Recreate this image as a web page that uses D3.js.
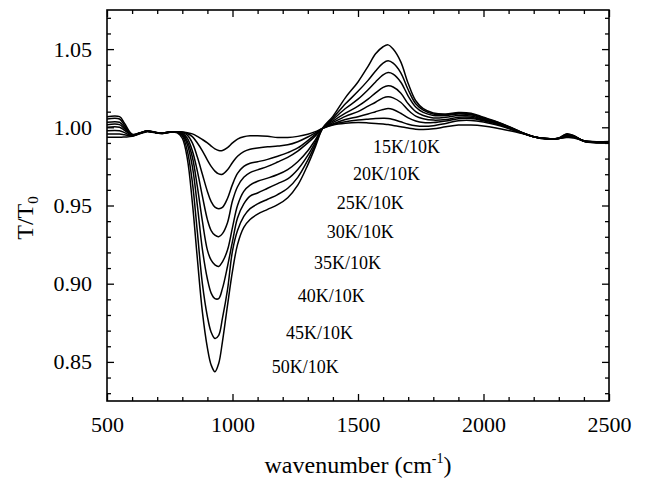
<!DOCTYPE html>
<html>
<head>
<meta charset="utf-8">
<script src="https://cdn.jsdelivr.net/npm/d3@7"></script>
<style>
  body { margin: 0; background: #fff; }
  svg { display: block; }
  text { font-family: "Liberation Serif", "Times New Roman", "DejaVu Serif", serif; fill: #000; }
</style>
</head>
<body>
<svg id="chart" width="647" height="479"></svg>
<script>
// Wavenumber grid (cm^-1) shared by every ratio spectrum
const wavenumbers = [500, 550, 570, 600, 630, 660, 690, 720, 750, 780,
  800, 820, 840, 860, 880, 900, 915, 930, 945, 960, 980, 1000,
  1020, 1045, 1070, 1100, 1140, 1180, 1220, 1260, 1300, 1330, 1360,
  1400, 1450, 1500, 1540, 1570, 1600, 1620, 1640, 1670, 1700,
  1730, 1760, 1800, 1850, 1900, 1950, 2000, 2050, 2100, 2150,
  2200, 2250, 2300, 2330, 2360, 2400, 2450, 2500];

// Transmission ratios T/T0 for each temperature against the 10 K reference
const ratio15K = [0.9936, 0.9936, 0.9938, 0.9942, 0.9958, 0.9972, 0.9966, 0.9960, 0.9968, 0.9972,
  0.9970, 0.9965, 0.9958, 0.9942, 0.9922, 0.9900, 0.9880, 0.9862, 0.9852, 0.9852, 0.9870, 0.9900,
  0.9925, 0.9940, 0.9946, 0.9946, 0.9942, 0.9935, 0.9935, 0.9942, 0.9955, 0.9972, 0.9994,
  1.0015, 1.0026, 1.0030, 1.0028, 1.0025, 1.0021, 1.0018, 1.0012, 1.0004, 0.9995,
  0.9988, 0.9986, 0.9990, 1.0003, 1.0014, 1.0014, 1.0008, 0.9996, 0.9980, 0.9962,
  0.9940, 0.9928, 0.9928, 0.9934, 0.9932, 0.9914, 0.9908, 0.9910];

const ratio20K = [0.9957, 0.9957, 0.9952, 0.9944, 0.9960, 0.9974, 0.9967, 0.9961, 0.9969, 0.9972,
  0.9970, 0.9960, 0.9940, 0.9900, 0.9850, 0.9790, 0.9750, 0.9720, 0.9702, 0.9700, 0.9728, 0.9775,
  0.9815, 0.9845, 0.9860, 0.9868, 0.9876, 0.9880, 0.9888, 0.9908, 0.9938, 0.9965, 0.9994,
  1.0018, 1.0036, 1.0046, 1.0052, 1.0056, 1.0058, 1.0057, 1.0050, 1.0035, 1.0020,
  1.0010, 1.0006, 1.0010, 1.0025, 1.0042, 1.0044, 1.0034, 1.0016, 0.9992, 0.9964,
  0.9940, 0.9928, 0.9928, 0.9938, 0.9935, 0.9914, 0.9906, 0.9908];

const ratio25K = [0.9978, 0.9978, 0.9966, 0.9946, 0.9961, 0.9975, 0.9968, 0.9961, 0.9969, 0.9971,
  0.9966, 0.9950, 0.9900, 0.9810, 0.9700, 0.9590, 0.9525, 0.9490, 0.9480, 0.9488, 0.9545, 0.9635,
  0.9705, 0.9750, 0.9770, 0.9780, 0.9795, 0.9815, 0.9838, 0.9868, 0.9915, 0.9955, 0.9995,
  1.0022, 1.0050, 1.0068, 1.0085, 1.0100, 1.0114, 1.0120, 1.0114, 1.0090, 1.0060,
  1.0040, 1.0030, 1.0030, 1.0040, 1.0055, 1.0056, 1.0042, 1.0022, 0.9996, 0.9966,
  0.9940, 0.9928, 0.9928, 0.9942, 0.9938, 0.9914, 0.9906, 0.9906];

const ratio30K = [1.0000, 1.0000, 0.9980, 0.9948, 0.9962, 0.9976, 0.9968, 0.9962, 0.9970, 0.9971,
  0.9963, 0.9930, 0.9850, 0.9720, 0.9560, 0.9410, 0.9340, 0.9310, 0.9300, 0.9320, 0.9390, 0.9530,
  0.9620, 0.9680, 0.9710, 0.9728, 0.9750, 0.9778, 0.9808, 0.9848, 0.9900, 0.9945, 0.9996,
  1.0030, 1.0070, 1.0100, 1.0135, 1.0160, 1.0188, 1.0195, 1.0188, 1.0160, 1.0110,
  1.0072, 1.0055, 1.0046, 1.0050, 1.0064, 1.0064, 1.0046, 1.0025, 0.9998, 0.9966,
  0.9940, 0.9928, 0.9928, 0.9946, 0.9940, 0.9912, 0.9904, 0.9904];

const ratio35K = [1.0017, 1.0017, 0.9990, 0.9950, 0.9962, 0.9975, 0.9968, 0.9962, 0.9970, 0.9970,
  0.9960, 0.9910, 0.9810, 0.9620, 0.9400, 0.9215, 0.9150, 0.9120, 0.9110, 0.9140, 0.9215, 0.9360,
  0.9500, 0.9590, 0.9630, 0.9655, 0.9675, 0.9698, 0.9730, 0.9780, 0.9850, 0.9920, 0.9996,
  1.0040, 1.0090, 1.0135, 1.0180, 1.0220, 1.0255, 1.0265, 1.0258, 1.0220, 1.0150,
  1.0100, 1.0075, 1.0060, 1.0064, 1.0075, 1.0072, 1.0050, 1.0028, 1.0000, 0.9967,
  0.9940, 0.9928, 0.9929, 0.9950, 0.9942, 0.9912, 0.9904, 0.9904];

const ratio40K = [1.0032, 1.0032, 1.0000, 0.9952, 0.9963, 0.9976, 0.9968, 0.9962, 0.9970, 0.9969,
  0.9952, 0.9890, 0.9750, 0.9500, 0.9220, 0.9030, 0.8940, 0.8905, 0.8905, 0.8970, 0.9110, 0.9270,
  0.9420, 0.9510, 0.9560, 0.9580, 0.9610, 0.9640, 0.9670, 0.9730, 0.9820, 0.9905, 0.9996,
  1.0050, 1.0120, 1.0180, 1.0240, 1.0290, 1.0335, 1.0350, 1.0340, 1.0290, 1.0200,
  1.0130, 1.0095, 1.0076, 1.0076, 1.0085, 1.0080, 1.0056, 1.0032, 1.0002, 0.9968,
  0.9940, 0.9927, 0.9930, 0.9953, 0.9944, 0.9911, 0.9903, 0.9903];

const ratio45K = [1.0053, 1.0053, 1.0012, 0.9954, 0.9963, 0.9976, 0.9968, 0.9962, 0.9970, 0.9968,
  0.9945, 0.9850, 0.9650, 0.9330, 0.9000, 0.8790, 0.8690, 0.8650, 0.8670, 0.8780, 0.8960, 0.9210,
  0.9340, 0.9430, 0.9480, 0.9510, 0.9540, 0.9570, 0.9610, 0.9680, 0.9790, 0.9890, 0.9996,
  1.0060, 1.0150, 1.0230, 1.0300, 1.0360, 1.0410, 1.0425, 1.0410, 1.0350, 1.0240,
  1.0150, 1.0110, 1.0085, 1.0080, 1.0090, 1.0085, 1.0060, 1.0035, 1.0004, 0.9968,
  0.9940, 0.9926, 0.9930, 0.9955, 0.9945, 0.9910, 0.9902, 0.9902];

const ratio50K = [1.0068, 1.0068, 1.0025, 0.9956, 0.9964, 0.9977, 0.9969, 0.9963, 0.9970, 0.9965,
  0.9930, 0.9800, 0.9520, 0.9160, 0.8820, 0.8590, 0.8480, 0.8437, 0.8490, 0.8630, 0.8860, 0.9080,
  0.9250, 0.9360, 0.9410, 0.9445, 0.9475, 0.9505, 0.9550, 0.9630, 0.9760, 0.9875, 0.9996,
  1.0070, 1.0190, 1.0290, 1.0390, 1.0470, 1.0515, 1.0527, 1.0500, 1.0420, 1.0280,
  1.0170, 1.0120, 1.0092, 1.0085, 1.0095, 1.0090, 1.0064, 1.0038, 1.0006, 0.9969,
  0.9940, 0.9925, 0.9931, 0.9958, 0.9947, 0.9910, 0.9900, 0.9900];

const seriesLabels = ["15K/10K", "20K/10K", "25K/10K", "30K/10K", "35K/10K", "40K/10K", "45K/10K", "50K/10K"];
const seriesValues = [ratio15K, ratio20K, ratio25K, ratio30K, ratio35K, ratio40K, ratio45K, ratio50K];

const xMajorTicks = [500, 1000, 1500, 2000, 2500];
const yMajorTicks = [0.85, 0.90, 0.95, 1.00, 1.05];

// ---- drawing ----
const svg = d3.select("#chart");
svg.append("rect").attr("width", 647).attr("height", 479).attr("fill", "#fff");

const plot = { left: 107, right: 609, top: 10, bottom: 401 };
const x = d3.scaleLinear().domain([500, 2500]).range([plot.left, plot.right]);
const y = d3.scaleLinear().domain([0.825, 1.075]).range([plot.bottom, plot.top]);

const xMinor = d3.range(600, 2500, 100).filter(v => v % 500 !== 0);
const yMinor = d3.range(83, 108, 1).map(v => v / 100).filter(v => Math.round(v * 100) % 5 !== 0);

svg.append("clipPath").attr("id", "plotClip")
  .append("rect")
  .attr("x", plot.left).attr("y", plot.top)
  .attr("width", plot.right - plot.left).attr("height", plot.bottom - plot.top);

// spectra
const line = d3.line()
  .x((d, i) => x(wavenumbers[i]))
  .y(d => y(d))
  .curve(d3.curveCatmullRom.alpha(0.5));

svg.append("g").attr("clip-path", "url(#plotClip)")
  .selectAll("path")
  .data(seriesValues)
  .join("path")
  .attr("d", line)
  .attr("fill", "none")
  .attr("stroke", "#000")
  .attr("stroke-width", 1.5)
  .attr("stroke-linejoin", "round");

// axes with inward ticks on all four sides
function styleAxis(g) {
  g.select(".domain").remove();
  g.selectAll("line").attr("stroke", "#000").attr("stroke-width", 1.3);
  g.selectAll("text").attr("font-size", 22);
}

svg.append("g").attr("transform", `translate(0,${plot.bottom})`)
  .call(d3.axisBottom(x).tickValues(xMajorTicks).tickSize(-7).tickPadding(15).tickFormat(d3.format("d")))
  .call(styleAxis);
svg.append("g").attr("transform", `translate(0,${plot.bottom})`)
  .call(d3.axisBottom(x).tickValues(xMinor).tickSize(-4).tickFormat(""))
  .call(styleAxis);
svg.append("g").attr("transform", `translate(0,${plot.top})`)
  .call(d3.axisTop(x).tickValues(xMajorTicks).tickSize(-7).tickFormat(""))
  .call(styleAxis);
svg.append("g").attr("transform", `translate(0,${plot.top})`)
  .call(d3.axisTop(x).tickValues(xMinor).tickSize(-4).tickFormat(""))
  .call(styleAxis);

svg.append("g").attr("transform", `translate(${plot.left},0)`)
  .call(d3.axisLeft(y).tickValues(yMajorTicks).tickSize(-7).tickPadding(15).tickFormat(d3.format(".2f")))
  .call(styleAxis);
svg.append("g").attr("transform", `translate(${plot.left},0)`)
  .call(d3.axisLeft(y).tickValues(yMinor).tickSize(-4).tickFormat(""))
  .call(styleAxis);
svg.append("g").attr("transform", `translate(${plot.right},0)`)
  .call(d3.axisRight(y).tickValues(yMajorTicks).tickSize(-7).tickFormat(""))
  .call(styleAxis);
svg.append("g").attr("transform", `translate(${plot.right},0)`)
  .call(d3.axisRight(y).tickValues(yMinor).tickSize(-4).tickFormat(""))
  .call(styleAxis);

// frame
svg.append("rect")
  .attr("x", plot.left).attr("y", plot.top)
  .attr("width", plot.right - plot.left).attr("height", plot.bottom - plot.top)
  .attr("fill", "none").attr("stroke", "#000").attr("stroke-width", 1.6);

// curve labels, anchored in data units (left end of text baseline)
const labelAnchors = [[1560, 0.9836], [1480, 0.9665], [1415, 0.9480], [1375, 0.9290],
  [1325, 0.9096], [1260, 0.8885], [1213, 0.8649], [1156, 0.8426]];
svg.append("g").selectAll("text")
  .data(seriesLabels)
  .join("text")
  .attr("x", (d, i) => x(labelAnchors[i][0]))
  .attr("y", (d, i) => y(labelAnchors[i][1]))
  .attr("font-size", 18)
  .text(d => d);

// axis titles
const xTitle = svg.append("text")
  .attr("x", (plot.left + plot.right) / 2)
  .attr("y", 473)
  .attr("text-anchor", "middle")
  .attr("font-size", 24);
xTitle.append("tspan").text("wavenumber (cm");
xTitle.append("tspan").attr("font-size", 14).attr("dy", -10).text("-1");
xTitle.append("tspan").attr("dy", 10).text(")");

const yTitle = svg.append("text")
  .attr("transform", "translate(33,218) rotate(-90)")
  .attr("text-anchor", "middle")
  .attr("font-size", 24);
yTitle.append("tspan").text("T/T");
yTitle.append("tspan").attr("font-size", 15).attr("dy", 5).text("0");
</script>
</body>
</html>
